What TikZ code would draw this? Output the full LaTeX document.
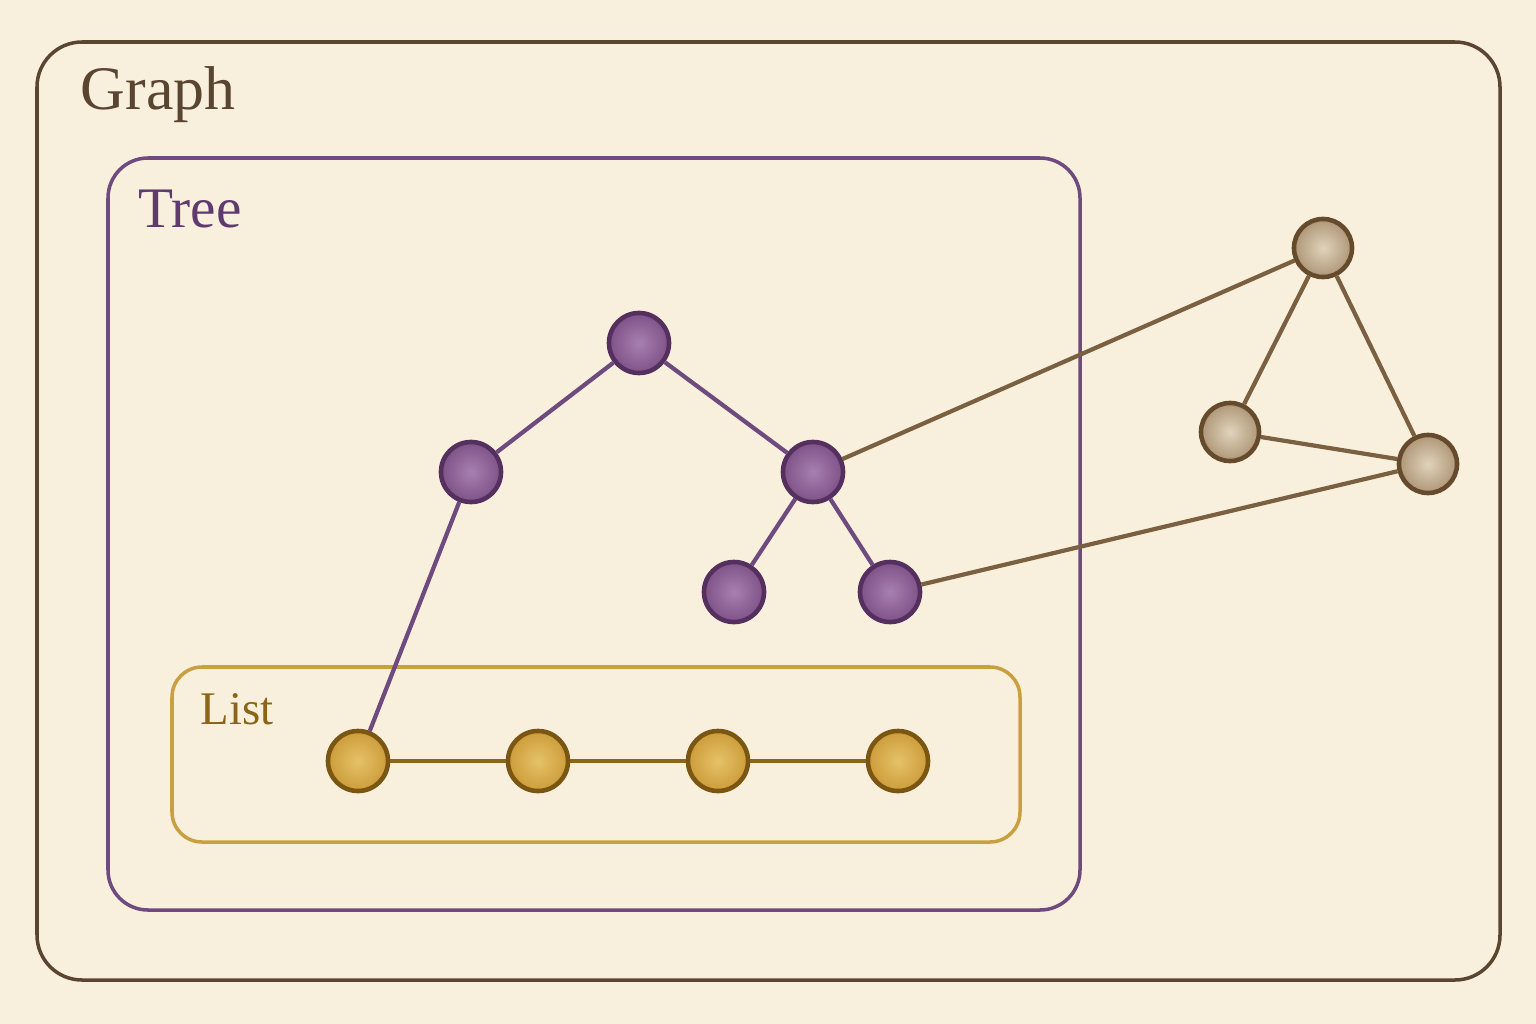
\documentclass[tikz,border=0pt]{standalone}
\usepackage{fontspec}
\setmainfont{Liberation Serif}
\definecolor{bg}{HTML}{F8F0DD}
\definecolor{graphc}{HTML}{5A4630}
\definecolor{treec}{HTML}{6E4A7E}
\definecolor{treet}{HTML}{5E3A6E}
\definecolor{listc}{HTML}{C9A040}
\definecolor{listt}{HTML}{8A6418}
\definecolor{purin}{HTML}{A880B0}
\definecolor{purout}{HTML}{7E5288}
\definecolor{purln}{HTML}{55305F}
\definecolor{goldin}{HTML}{E6C268}
\definecolor{goldout}{HTML}{CC9C3A}
\definecolor{goldln}{HTML}{7A5612}
\definecolor{tanin}{HTML}{E0D3BC}
\definecolor{tanout}{HTML}{AE9676}
\definecolor{tanln}{HTML}{664A2C}
\definecolor{tanedge}{HTML}{7A6040}
\begin{document}
\begin{tikzpicture}[x=0.01cm,y=-0.01cm,
  container/.style={line width=1pt},
  tnode/.style={circle,minimum size=0.6cm,inner sep=0pt,draw=purln,line width=1.3pt,inner color=purin,outer color=purout},
  lnode/.style={circle,minimum size=0.6cm,inner sep=0pt,draw=goldln,line width=1.3pt,inner color=goldin,outer color=goldout},
  gnode/.style={circle,minimum size=0.58cm,inner sep=0pt,draw=tanln,line width=1.3pt,inner color=tanin,outer color=tanout},
  tedge/.style={draw=treec,line width=1.2pt},
  ledge/.style={draw=goldln!80!listc,line width=1.4pt},
  gedge/.style={draw=tanedge,line width=1.2pt},
  lbl/.style={anchor=base west,inner sep=0pt}
]
\fill[bg] (0,0) rectangle (1536,1024);
\useasboundingbox (0,0) rectangle (1536,1024);
% containers
\draw[container,draw=graphc,rounded corners=0.45cm] (37,42) rectangle (1500,980);
\draw[container,draw=treec,rounded corners=0.4cm] (108,158) rectangle (1080,910);
\draw[container,draw=listc,rounded corners=0.3cm] (172,667) rectangle (1020,842);
% labels
\node[lbl,text=graphc,font=\fontsize{17.6}{21}\selectfont] (glabel) at (80,110) {Graph};
\node[lbl,text=treet,font=\fontsize{16.3}{19}\selectfont] (tlabel) at (138,227) {Tree};
\node[lbl,text=listt,font=\fontsize{13.3}{16}\selectfont] (llabel) at (200,724) {List};
% nodes
\node[tnode] (root) at (639,343) {};
\node[tnode] (tl) at (471,472) {};
\node[tnode] (tr) at (813,472) {};
\node[tnode] (trl) at (734,592) {};
\node[tnode] (trr) at (890,592) {};
\node[lnode] (l1) at (358,761) {};
\node[lnode] (l2) at (538,761) {};
\node[lnode] (l3) at (718,761) {};
\node[lnode] (l4) at (898,761) {};
\node[gnode] (gt) at (1323,248) {};
\node[gnode] (gl) at (1230,432) {};
\node[gnode] (gr) at (1428,464) {};
% edges
\path[tedge] (root) -- (tl);
\path[tedge] (root) -- (tr);
\path[tedge] (tr) -- (trl);
\path[tedge] (tr) -- (trr);
\path[tedge] (tl) -- (l1);
\path[ledge] (l1) -- (l2);
\path[ledge] (l2) -- (l3);
\path[ledge] (l3) -- (l4);
\path[gedge] (tr) -- (gt);
\path[gedge] (trr) -- (gr);
\path[gedge] (gt) -- (gl);
\path[gedge] (gt) -- (gr);
\path[gedge] (gl) -- (gr);
\end{tikzpicture}
\end{document}
